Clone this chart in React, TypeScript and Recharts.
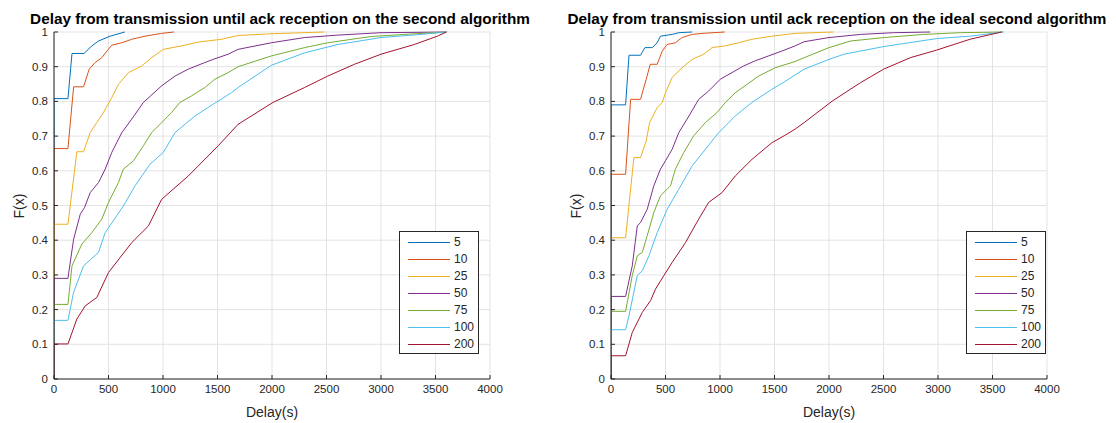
import { LineChart, Line, XAxis, YAxis, CartesianGrid, Legend } from "recharts";

// legend order and MATLAB default line colours
const seriesNames = ["5", "10", "25", "50", "75", "100", "200"];
const seriesColors = ["#0072BD", "#D95319", "#EDB120", "#7E2F8E", "#77AC30", "#4DBEEE", "#A2142F"];

const xTicks = [0, 500, 1000, 1500, 2000, 2500, 3000, 3500, 4000];
const yTicks = [0, 0.1, 0.2, 0.3, 0.4, 0.5, 0.6, 0.7, 0.8, 0.9, 1];

type Pt = [number, number];

// empirical CDFs, second algorithm: [delay, F(x)]
const second5: Pt[] = [[0, 0], [0, 0.808], [128, 0.808], [165, 0.938], [274, 0.938], [348, 0.96], [408, 0.974], [515, 0.988], [650, 1]];
const second10: Pt[] = [[0, 0], [0, 0.664], [128, 0.664], [180, 0.842], [271, 0.842], [323, 0.893], [378, 0.912], [439, 0.926], [485, 0.945], [530, 0.962], [622, 0.969], [713, 0.979], [835, 0.988], [988, 0.996], [1100, 1]];
const second25: Pt[] = [[0, 0], [0, 0.446], [128, 0.446], [210, 0.655], [271, 0.655], [332, 0.71], [393, 0.739], [454, 0.768], [530, 0.811], [591, 0.849], [683, 0.883], [805, 0.902], [896, 0.926], [1003, 0.95], [1171, 0.96], [1323, 0.971], [1537, 0.979], [1689, 0.99], [2000, 0.995], [2480, 1]];
const second50: Pt[] = [[0, 0], [0, 0.29], [128, 0.29], [180, 0.403], [241, 0.475], [280, 0.494], [332, 0.537], [408, 0.566], [470, 0.605], [530, 0.653], [622, 0.71], [713, 0.749], [820, 0.797], [988, 0.845], [1110, 0.873], [1232, 0.893], [1384, 0.912], [1476, 0.923], [1598, 0.936], [1689, 0.95], [1994, 0.969], [2299, 0.984], [2604, 0.991], [3000, 0.998], [3600, 1]];
const second75: Pt[] = [[0, 0], [0, 0.215], [128, 0.215], [165, 0.326], [256, 0.389], [348, 0.422], [439, 0.461], [500, 0.509], [591, 0.566], [637, 0.605], [729, 0.629], [820, 0.672], [896, 0.71], [988, 0.739], [1079, 0.768], [1155, 0.797], [1262, 0.816], [1384, 0.84], [1476, 0.864], [1598, 0.883], [1689, 0.9], [1994, 0.931], [2299, 0.955], [2512, 0.969], [2909, 0.987], [3213, 0.993], [3600, 1]];
const second100: Pt[] = [[0, 0], [0, 0.169], [128, 0.169], [180, 0.25], [271, 0.326], [408, 0.365], [470, 0.422], [637, 0.499], [744, 0.557], [881, 0.619], [1003, 0.653], [1110, 0.71], [1293, 0.758], [1476, 0.795], [1628, 0.825], [1689, 0.84], [1994, 0.904], [2299, 0.94], [2604, 0.964], [3000, 0.984], [3366, 0.993], [3600, 1]];
const second200: Pt[] = [[0, 0], [0, 0.101], [128, 0.101], [210, 0.173], [287, 0.211], [393, 0.235], [500, 0.307], [713, 0.393], [866, 0.441], [988, 0.518], [1232, 0.585], [1506, 0.672], [1689, 0.734], [2009, 0.797], [2299, 0.84], [2512, 0.873], [2756, 0.907], [3000, 0.936], [3305, 0.964], [3518, 0.988], [3600, 1]];

// empirical CDFs, ideal second algorithm
const ideal5: Pt[] = [[0, 0], [0, 0.79], [134, 0.79], [165, 0.933], [271, 0.933], [311, 0.955], [378, 0.955], [424, 0.969], [454, 0.988], [561, 0.993], [622, 0.998], [744, 1]];
const ideal10: Pt[] = [[0, 0], [0, 0.59], [134, 0.59], [180, 0.806], [271, 0.806], [323, 0.864], [360, 0.907], [424, 0.907], [470, 0.945], [515, 0.964], [591, 0.969], [652, 0.984], [744, 0.993], [835, 0.996], [1043, 1]];
const ideal25: Pt[] = [[0, 0], [0, 0.407], [134, 0.407], [210, 0.638], [271, 0.638], [323, 0.686], [354, 0.739], [424, 0.782], [470, 0.797], [500, 0.825], [561, 0.869], [652, 0.897], [744, 0.921], [851, 0.936], [927, 0.955], [1049, 0.96], [1171, 0.969], [1293, 0.979], [1476, 0.988], [1689, 0.996], [2040, 1]];
const ideal50: Pt[] = [[0, 0], [0, 0.238], [134, 0.238], [195, 0.326], [241, 0.441], [271, 0.451], [332, 0.489], [393, 0.557], [454, 0.605], [500, 0.629], [561, 0.662], [622, 0.71], [698, 0.749], [805, 0.806], [896, 0.83], [1003, 0.864], [1110, 0.883], [1216, 0.902], [1323, 0.917], [1445, 0.931], [1567, 0.945], [1689, 0.96], [1772, 0.972], [2000, 0.984], [2289, 0.993], [2593, 0.998], [2928, 1]];
const ideal75: Pt[] = [[0, 0], [0, 0.195], [134, 0.195], [195, 0.298], [241, 0.355], [287, 0.365], [332, 0.413], [393, 0.48], [454, 0.528], [546, 0.557], [591, 0.605], [668, 0.653], [759, 0.701], [866, 0.739], [973, 0.768], [1049, 0.797], [1140, 0.825], [1247, 0.849], [1354, 0.873], [1506, 0.897], [1689, 0.915], [1772, 0.926], [2000, 0.955], [2198, 0.974], [2502, 0.984], [2867, 0.993], [3202, 0.998], [3598, 1]];
const ideal100: Pt[] = [[0, 0], [0, 0.142], [134, 0.142], [165, 0.182], [241, 0.298], [287, 0.312], [348, 0.355], [424, 0.422], [515, 0.489], [622, 0.547], [744, 0.614], [866, 0.662], [988, 0.71], [1140, 0.758], [1293, 0.797], [1476, 0.835], [1589, 0.856], [1772, 0.893], [2000, 0.921], [2137, 0.936], [2502, 0.958], [2989, 0.981], [3293, 0.988], [3598, 1]];
const ideal200: Pt[] = [[0, 0], [0, 0.067], [134, 0.067], [195, 0.134], [287, 0.192], [363, 0.226], [408, 0.259], [485, 0.298], [561, 0.336], [683, 0.393], [805, 0.461], [896, 0.509], [1018, 0.537], [1140, 0.585], [1293, 0.633], [1476, 0.681], [1589, 0.701], [1689, 0.72], [1772, 0.739], [2030, 0.801], [2289, 0.854], [2502, 0.893], [2746, 0.926], [2989, 0.948], [3293, 0.979], [3583, 1]];

const secondSeries = [second5, second10, second25, second50, second75, second100, second200];
const idealSeries = [ideal5, ideal10, ideal25, ideal50, ideal75, ideal100, ideal200];

const FONT = '"Liberation Sans", Arial, Helvetica, sans-serif';
const INK = "#262626";
const W = 558;
const H = 423;

const toRows = (pts: Pt[]) => pts.map(([x, y]) => ({ x, y }));

// legend box in the plot's lower right corner, same order as the series
function LegendBox() {
  return (
    <div
      style={{
        width: 80,
        height: 123,
        border: `1px solid ${INK}`,
        background: "#fff",
        fontFamily: FONT,
        fontSize: 12,
        lineHeight: "17px",
        color: INK,
        paddingTop: 2,
        boxSizing: "border-box",
      }}
    >
      {seriesNames.map((name, i) => (
        <div key={name} style={{ position: "relative", height: 17 }}>
          <span style={{ position: "absolute", left: 8, top: 8, width: 42, height: 1, background: seriesColors[i] }} />
          <span style={{ position: "absolute", left: 54, top: 0 }}>{name}</span>
        </div>
      ))}
    </div>
  );
}

function Panel({ left, title, series, legendLeft }: { left: number; title: string; series: Pt[][]; legendLeft: number }) {
  const tick = { fontSize: 11.5, fill: INK, fontFamily: FONT };
  return (
    <div style={{ position: "absolute", left, top: 0, width: W, height: H }}>
      <div
        style={{
          position: "absolute",
          left: 0,
          width: 560,
          top: 9,
          textAlign: "center",
          fontFamily: FONT,
          fontWeight: "bold",
          fontSize: 15.3,
          lineHeight: "19px",
          color: "#000",
          whiteSpace: "nowrap",
        }}
      >
        {title}
      </div>
      <div
        style={{
          position: "absolute",
          left: 19,
          top: 206,
          transform: "translate(-50%, -50%) rotate(-90deg)",
          fontFamily: FONT,
          fontSize: 14,
          color: INK,
          whiteSpace: "nowrap",
        }}
      >
        F(x)
      </div>
      <LineChart width={W} height={H} margin={{ top: 32, right: 68, bottom: 4, left: 24 }}>
        <CartesianGrid stroke="#e3e3e3" strokeDasharray="0" />
        <XAxis
          type="number"
          dataKey="x"
          domain={[0, 4000]}
          ticks={xTicks}
          allowDataOverflow
          height={40}
          stroke={INK}
          tickSize={-4}
          tickMargin={10}
          tick={tick}
          label={{ value: "Delay(s)", position: "insideBottom", offset: 2, fill: INK, fontSize: 14, fontFamily: FONT }}
        />
        <YAxis
          type="number"
          dataKey="y"
          domain={[0, 1]}
          ticks={yTicks}
          width={30}
          stroke={INK}
          tickSize={-4}
          tickMargin={10}
          tick={tick}
        />
        {series.map((pts, i) => (
          <Line
            key={seriesNames[i]}
            data={toRows(pts)}
            dataKey="y"
            name={seriesNames[i]}
            type="linear"
            stroke={seriesColors[i]}
            strokeWidth={1}
            dot={false}
            activeDot={false}
            isAnimationActive={false}
          />
        ))}
        <Legend
          layout="vertical"
          align="center"
          verticalAlign="middle"
          wrapperStyle={{ left: legendLeft, top: 231, width: 80 }}
          content={<LegendBox />}
        />
      </LineChart>
    </div>
  );
}

export default function App() {
  return (
    <div style={{ position: "absolute", left: 0, top: 0, width: 1116, height: 423, background: "#fff", overflow: "hidden" }}>
      <Panel
        left={0}
        title="Delay from transmission until ack reception on the second algorithm"
        series={secondSeries}
        legendLeft={399}
      />
      <Panel
        left={557}
        title="Delay from transmission until ack reception on the ideal second algorithm"
        series={idealSeries}
        legendLeft={409}
      />
    </div>
  );
}
